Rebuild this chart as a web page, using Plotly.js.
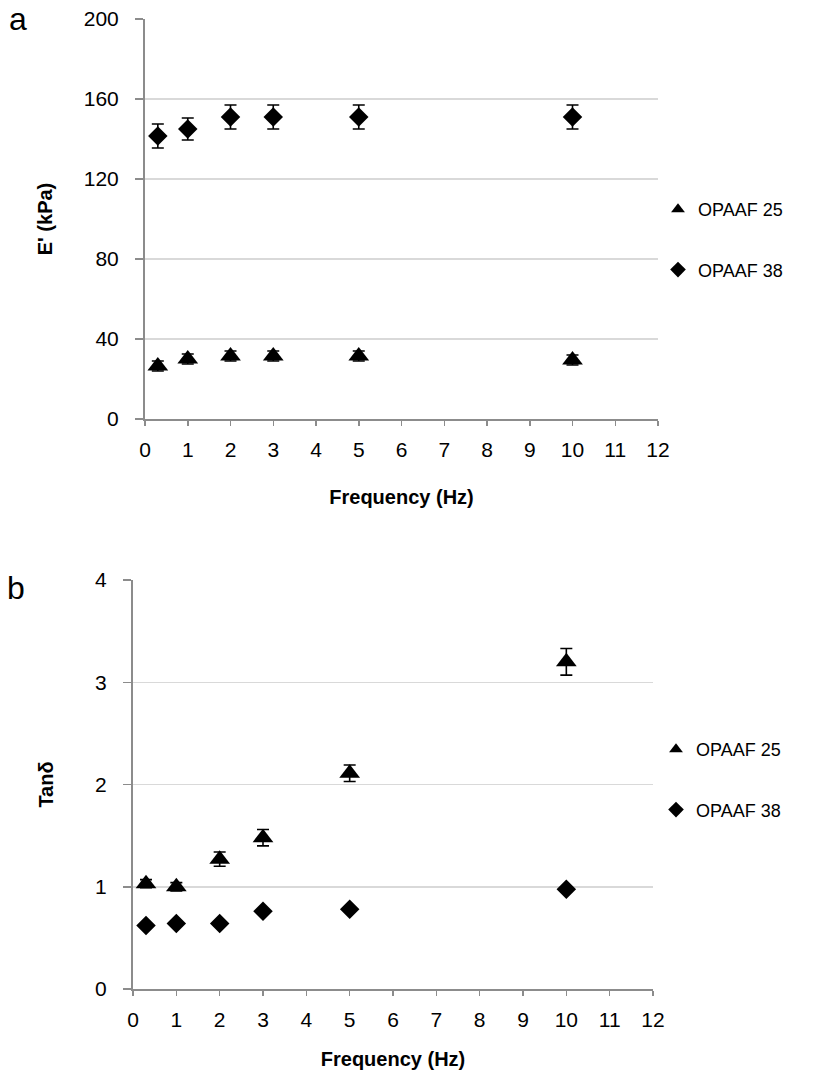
<!DOCTYPE html>
<html>
<head>
<meta charset="utf-8">
<script src="https://cdn.plot.ly/plotly-3.0.1.min.js"></script>
<style>
html,body{margin:0;padding:0;background:#ffffff;}
#chart{width:818px;height:1081px;}
</style>
</head>
<body>
<div id="chart"></div>
<script>
// ---- Data ----
const freq = [0.3, 1, 2, 3, 5, 10];
const seriesNames = ['OPAAF 25', 'OPAAF 38'];

// Panel a: storage modulus E' (kPa)
const eOPAAF25 = [26.5, 30, 31.5, 31.5, 31.5, 29.5];
const eOPAAF25Err = [2.5, 2.5, 2.5, 2.5, 2.5, 2.5];
const eOPAAF38 = [141.5, 145, 151, 151, 151, 151];
const eOPAAF38Err = [6, 5.5, 6, 6, 6, 6];

// Panel b: Tan delta
const tanOPAAF25 = [1.03, 1.0, 1.27, 1.48, 2.11, 3.2];
const tanOPAAF25Err = [0.04, 0.04, 0.07, 0.08, 0.08, 0.13];
const tanOPAAF38 = [0.62, 0.64, 0.64, 0.76, 0.78, 0.975];
const tanOPAAF38Err = [0.02, 0.02, 0.02, 0.02, 0.02, 0.02];

const xTicks = [0, 1, 2, 3, 4, 5, 6, 7, 8, 9, 10, 11, 12];
const eTicks = [0, 40, 80, 120, 160, 200];
const tanTicks = [0, 1, 2, 3, 4];

// ---- Styling ----
const FONT = 'Liberation Sans, Arial, Helvetica, sans-serif';
const AXIS_GREY = '#8c8c8c';
const GRID_GREY = '#d9d9d9';
const W = 818, H = 1081;

function errBar(arr) {
  return {type: 'data', array: arr, visible: true, color: '#000000', thickness: 1.6, width: 6};
}
function markerTri() { return {symbol: 'triangle-up', size: 18, color: '#000000'}; }
function markerDia() { return {symbol: 'diamond', size: 15, color: '#000000'}; }

const traces = [
  {x: freq, y: eOPAAF25, name: seriesNames[0], type: 'scatter', mode: 'markers',
   marker: markerTri(), error_y: errBar(eOPAAF25Err), xaxis: 'x', yaxis: 'y',
   legend: 'legend', legendgroup: 'a25'},
  {x: freq, y: eOPAAF38, name: seriesNames[1], type: 'scatter', mode: 'markers',
   marker: markerDia(), error_y: errBar(eOPAAF38Err), xaxis: 'x', yaxis: 'y',
   legend: 'legend', legendgroup: 'a38'},
  {x: freq, y: tanOPAAF25, name: seriesNames[0], type: 'scatter', mode: 'markers',
   marker: markerTri(), error_y: errBar(tanOPAAF25Err), xaxis: 'x2', yaxis: 'y2',
   legend: 'legend2', legendgroup: 'b25'},
  {x: freq, y: tanOPAAF38, name: seriesNames[1], type: 'scatter', mode: 'markers',
   marker: markerDia(), error_y: errBar(tanOPAAF38Err), xaxis: 'x2', yaxis: 'y2',
   legend: 'legend2', legendgroup: 'b38'}
];

function xAxis(domain, anchor, standoff) {
  return {
    domain: domain, anchor: anchor, range: [0, 12], tickmode: 'array', tickvals: xTicks,
    ticktext: xTicks.map(String),
    showline: true, linecolor: AXIS_GREY, linewidth: 2, ticks: 'outside', ticklen: 5,
    tickcolor: AXIS_GREY, tickwidth: 1.5, showgrid: false, zeroline: false,
    tickfont: {family: FONT, size: 21, color: '#000000'}, ticklabelstandoff: 6,
    title: {text: 'Frequency (Hz)', font: {family: FONT, size: 20, color: '#000000', weight: 'bold'}, standoff: standoff},
    fixedrange: true
  };
}
function yAxis(domain, anchor, range, ticks, titleText, standoff) {
  return {
    domain: domain, anchor: anchor, range: range, tickmode: 'array', tickvals: ticks,
    ticktext: ticks.map(String),
    showline: true, linecolor: AXIS_GREY, linewidth: 2, ticks: 'outside', ticklen: 8,
    tickcolor: AXIS_GREY, tickwidth: 1.5, showgrid: true, gridcolor: GRID_GREY, gridwidth: 1.5,
    zeroline: false,
    tickfont: {family: FONT, size: 21, color: '#000000'}, ticklabelstandoff: 12,
    title: {text: titleText, font: {family: FONT, size: 20, color: '#000000', weight: 'bold'}, standoff: standoff},
    fixedrange: true
  };
}

const legendCommon = {
  xanchor: 'left', yanchor: 'top',
  font: {family: FONT, size: 18, color: '#000000'}, itemsizing: 'constant',
  tracegroupgap: 34, bgcolor: 'rgba(0,0,0,0)', traceorder: 'grouped'
};

const layout = {
  width: W, height: H,
  margin: {l: 0, r: 0, t: 0, b: 0},
  paper_bgcolor: '#ffffff', plot_bgcolor: '#ffffff',
  font: {family: FONT, size: 21, color: '#000000'},
  xaxis: xAxis([145 / W, 658 / W], 'y', 30),
  yaxis: yAxis([1 - 419 / H, 1 - 19 / H], 'x', [0, 200], eTicks, "E' (kPa)", 26),
  xaxis2: xAxis([133 / W, 653 / W], 'y2', 22),
  yaxis2: yAxis([1 - 989 / H, 1 - 580 / H], 'x2', [0, 4], tanTicks, 'Tanδ', 36),
  legend: Object.assign({x: 658 / W, y: 1 - 191 / H}, legendCommon),
  legend2: Object.assign({x: 656 / W, y: 1 - 731 / H}, legendCommon),
  showlegend: true,
  annotations: [
    {text: 'a', xref: 'paper', yref: 'paper', x: 18 / W, y: 1 - 19 / H, xanchor: 'center', yanchor: 'middle',
     showarrow: false, font: {family: FONT, size: 32, color: '#000000'}},
    {text: 'b', xref: 'paper', yref: 'paper', x: 16 / W, y: 1 - 588 / H, xanchor: 'center', yanchor: 'middle',
     showarrow: false, font: {family: FONT, size: 32, color: '#000000'}}
  ]
};

Plotly.newPlot('chart', traces, layout, {staticPlot: true, displayModeBar: false});
</script>
</body>
</html>
